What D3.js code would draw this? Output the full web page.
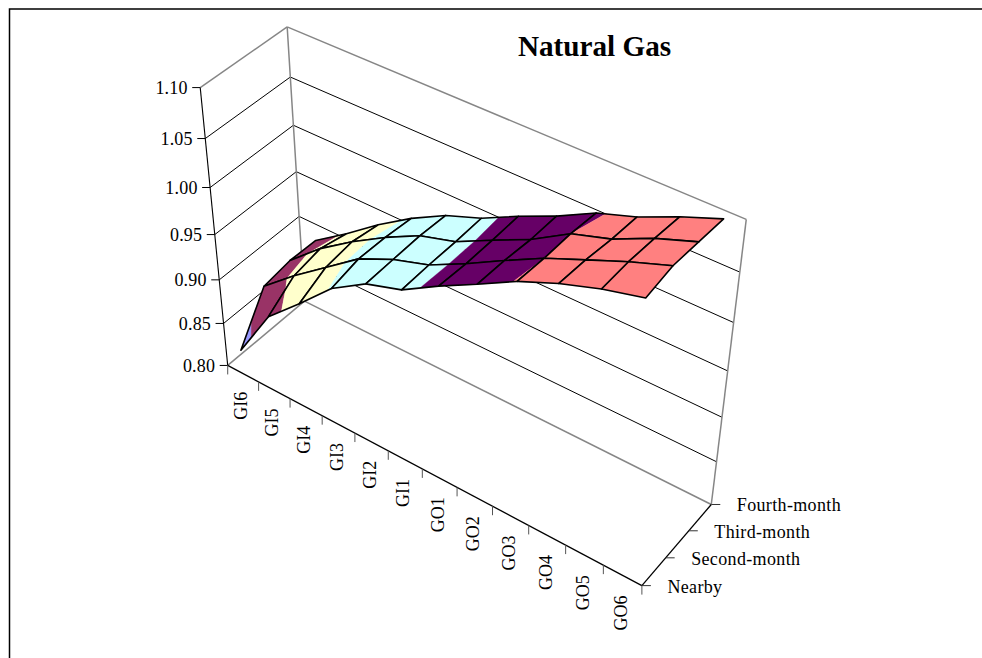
<!DOCTYPE html>
<html><head><meta charset="utf-8">
<script src="https://cdn.jsdelivr.net/npm/d3@7"></script>
<style>html,body{margin:0;padding:0;background:#fff}svg{display:block}text{font-family:"Liberation Serif","Times New Roman",serif;fill:#000}</style>
</head><body><svg id="c" width="982" height="658"></svg>
<script>
const chartTitle = "Natural Gas";
const categories = ["GI6","GI5","GI4","GI3","GI2","GI1","GO1","GO2","GO3","GO4","GO5","GO6"];
const seriesNames = ["Nearby","Second-month","Third-month","Fourth-month"];
const valueTicks = [0.80,0.85,0.90,0.95,1.00,1.05,1.10];
const nearby = [0.828,0.886,0.919,0.954,0.977,0.989,1.011,1.031,1.052,1.068,1.081,1.091];
const secondMonth = [0.877,0.907,0.934,0.961,0.978,0.990,1.009,1.030,1.050,1.066,1.082,1.096];
const thirdMonth = [0.882,0.913,0.938,0.960,0.979,0.990,1.009,1.027,1.050,1.062,1.080,1.094];
const fourthMonth = [0.881,0.906,0.933,0.957,0.977,0.991,1.010,1.027,1.047,1.060,1.077,1.092];
const bandColors = ["#9999ff","#993366","#ffffcc","#ccffff","#660066","#ff8080"];
const grid = [nearby,secondMonth,thirdMonth,fourthMonth];

const svg = d3.select("#c");
const sx = d3.scaleBand().domain(categories).range([0,1]);
const sy = d3.scalePoint().domain(seriesNames).range([0,1]);
const sz = d3.scaleLinear().domain([0.8,1.1]).range([0,1]);
const xTickPos = d3.range(categories.length+1).map(i=>i/categories.length);

// Perspective camera fitted to the box corners (cube coords -> screen)
const boxCorners = [
  [0,0,0,228.7,365],[1,0,0,641.7,586],[1,1,0,711.7,504],[0,1,0,303.3,301.7],
  [0,0,1,199.3,87.7],[0,1,1,288.3,26.7],[1,1,1,746,219.5]];
function fitCamera(pts){
  const rows=[];
  pts.forEach(([x,y,z,u,v])=>{
    rows.push([x,y,z,1,0,0,0,0,-u*x,-u*y,-u*z,u]);
    rows.push([0,0,0,0,x,y,z,1,-v*x,-v*y,-v*z,v]);
  });
  const n=11, A=d3.range(n).map(()=>new Array(n+1).fill(0));
  rows.forEach(r=>{for(let a=0;a<n;a++)for(let b=0;b<=n;b++)A[a][b]+=r[a]*r[b];});
  for(let c=0;c<n;c++){
    let m=c;for(let r=c+1;r<n;r++)if(Math.abs(A[r][c])>Math.abs(A[m][c]))m=r;
    [A[c],A[m]]=[A[m],A[c]];
    for(let r=0;r<n;r++){if(r===c)continue;const f=A[r][c]/A[c][c];for(let k=c;k<=n;k++)A[r][k]-=f*A[c][k];}
  }
  return A.map((r,i)=>r[n]/r[i]);
}
const P=fitCamera(boxCorners);
function proj(x,y,z){
  const w=P[8]*x+P[9]*y+P[10]*z+1;
  return [(P[0]*x+P[1]*y+P[2]*z+P[3])/w,(P[4]*x+P[5]*y+P[6]*z+P[7])/w];
}
function seg(p,q,stroke,width){
  svg.append("line").attr("x1",p[0]).attr("y1",p[1]).attr("x2",q[0]).attr("y2",q[1])
    .attr("stroke",stroke).attr("stroke-width",width);
}
// Chart frame
svg.append("path").attr("d","M9.5,658V9H982").attr("fill","none").attr("stroke","#000").attr("stroke-width",1.5);

// Walls
const GREY="#868686";
valueTicks.forEach(v=>{
  const z=sz(v), edge=(v===0.8||v===1.1), col=edge?GREY:"#000", w=edge?1.5:1;
  seg(proj(0,0,z),proj(0,1,z),col,w);
  seg(proj(0,1,z),proj(1,1,z),col,w);
});
seg(proj(0,1,0),proj(0,1,1),GREY,1.5);
seg(proj(1,1,0),proj(1,1,1),GREY,1.5);

// Axes
seg(proj(0,0,0),proj(0,0,1),"#000",1.1);
seg(proj(0,0,0),proj(1,0,0),"#000",1.3);
seg(proj(1,0,0),proj(1,1,0),"#000",1.3);
valueTicks.forEach(v=>{
  const p=proj(0,0,sz(v));
  seg([p[0]-8,p[1]],p,"#000",1);
  svg.append("text").attr("x",p[0]-12.5).attr("y",p[1]+0.7).attr("dy","0.33em").attr("text-anchor","end")
    .attr("font-size",18).attr("letter-spacing","0.2px").text(v.toFixed(2));
});
xTickPos.forEach(t=>{
  const p=proj(t,0,0);
  seg(p,[p[0],p[1]+9],"#555",1);
});
const labelShift=d3.scaleLinear().domain([0,categories.length-1]).range([-11.5,-14.5]);
categories.forEach((c,i)=>{
  const p=proj(xTickPos[i+1],0,0);
  svg.append("text").attr("transform",`translate(${p[0]+labelShift(i)},${p[1]+10}) rotate(-90)`)
    .attr("text-anchor","end").attr("font-size",18).text(c);
});
seriesNames.forEach(s=>{
  const p=proj(1,sy(s),0);
  seg(p,[p[0]+9,p[1]],"#333",1);
  svg.append("text").attr("x",p[0]+25.5).attr("y",p[1]+1).attr("dy","0.33em").attr("font-size",18)
    .attr("letter-spacing","0.35px").text(s);
});

// Surface: each cell is clipped into value bands, painted back to front
function clipBand(poly,lim,sign){
  const out=[];
  poly.forEach((p,k)=>{
    const q=poly[(k+1)%poly.length];
    const pin=sign*(p[2]-lim)>=0, qin=sign*(q[2]-lim)>=0;
    if(pin) out.push(p);
    if(pin!==qin){const t=(lim-p[2])/(q[2]-p[2]);out.push([p[0]+t*(q[0]-p[0]),p[1]+t*(q[1]-p[1]),lim]);}
  });
  return out;
}
const cx=i=>sx(categories[i])+sx.bandwidth()/2, cy=j=>sy(seriesNames[j]);
const toPath=poly=>"M"+poly.map(p=>proj(p[0],p[1],sz(p[2])).map(n=>n.toFixed(2)).join(",")).join("L")+"Z";
const surf=svg.append("g");
for(let j=grid.length-2;j>=0;j--){
  for(let i=0;i<categories.length-1;i++){
    const cell=[[cx(i),cy(j),grid[j][i]],[cx(i+1),cy(j),grid[j][i+1]],[cx(i+1),cy(j+1),grid[j+1][i+1]],[cx(i),cy(j+1),grid[j+1][i]]];
    bandColors.forEach((col,b)=>{
      let p=clipBand(cell,valueTicks[b],1); if(p.length>2) p=clipBand(p,valueTicks[b+1],-1);
      if(p.length>2) surf.append("path").attr("d",toPath(p)).attr("fill",col).attr("stroke",col).attr("stroke-width",0.3);
    });
    surf.append("path").attr("d",toPath(cell)).attr("fill","none").attr("stroke","#000").attr("stroke-width",1.6).attr("stroke-linejoin","round");
  }
}
// Title
svg.append("text").attr("x",594.5).attr("y",56).attr("text-anchor","middle").attr("font-size",29.2).attr("font-weight","bold").text(chartTitle);
</script></body></html>
